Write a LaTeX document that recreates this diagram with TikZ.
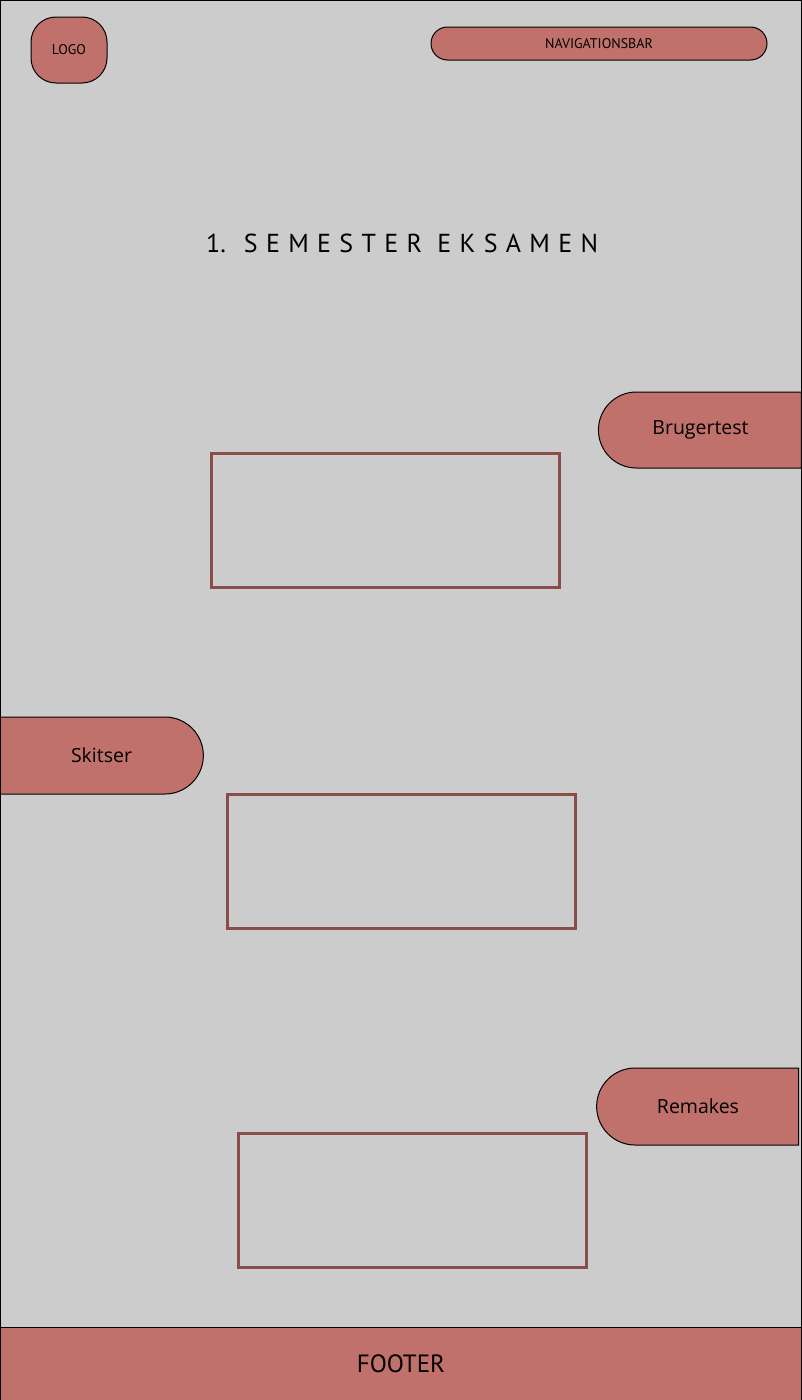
\documentclass[tikz,border=0pt]{standalone}
\usepackage{fontspec}
\setmainfont{PT Sans}
\newfontfamily\btnfont{Open Sans}
\newfontfamily\titleplain{PT Sans}
\newfontfamily\titlefont[LetterSpace=32]{PT Sans}
\usetikzlibrary{shapes.misc}
\definecolor{bg}{HTML}{CCCCCC}
\definecolor{rose}{HTML}{C1716C}
\definecolor{frame}{HTML}{8B4D4A}
\tikzset{
  pill/.style={shape=rounded rectangle, draw=black, fill=rose, line width=1pt, inner sep=0pt, outer sep=0pt},
  frameBox/.style={draw=frame, line width=3pt, inner sep=0pt, minimum width=348pt, minimum height=134pt},
  btntext/.style={font=\btnfont\fontsize{19.5}{22}\selectfont},
}
\begin{document}
\begin{tikzpicture}[x=1pt,y=-1pt]
\useasboundingbox (0,0) rectangle (802,1400);
\node[draw=black, fill=bg, line width=1pt, minimum width=801pt, minimum height=1399pt, inner sep=0pt] (page) at (401,700) {};
% logo
\node[draw=black, fill=rose, line width=1pt, rounded corners=25pt, minimum width=76pt, minimum height=66pt, inner sep=0pt, font=\fontsize{14}{16}\selectfont] (logo) at (69,50) {LOGO};
% navbar
\node[pill, minimum width=336pt, minimum height=33pt, font=\fontsize{14}{16}\selectfont] (nav) at (599,43.5) {NAVIGATIONSBAR};
% title
\node[font=\fontsize{26}{30}\selectfont, inner sep=0pt, anchor=west] (title) at (206,243) {{\titleplain 1.}\hspace{18pt}{\titlefont SEMESTER EKSAMEN}};
% side tabs
\node[pill, rounded rectangle east arc=none, minimum width=203pt, minimum height=76pt, btntext] (bruger) at (700.5,430) {Brugertest};
\node[pill, rounded rectangle west arc=none, minimum width=203pt, minimum height=77pt, btntext] (skitser) at (101.5,755.5) {Skitser};
\node[pill, rounded rectangle east arc=none, minimum width=202pt, minimum height=77pt, btntext] (remakes) at (698,1106.5) {Remakes};
% frames
\node[frameBox] (f1) at (385,520) {};
\node[frameBox] (f2) at (401,861) {};
\node[frameBox] (f3) at (412,1200) {};
% footer
\node[draw=black, fill=rose, line width=1pt, minimum width=801pt, minimum height=73pt, inner sep=0pt, font=\fontsize{25}{28}\selectfont] (footer) at (401,1363.5) {FOOTER};
\end{tikzpicture}
\end{document}
